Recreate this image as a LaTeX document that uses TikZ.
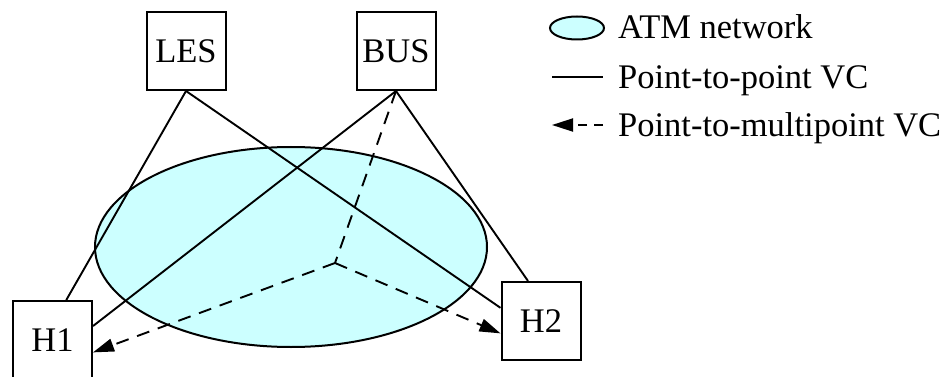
\documentclass[tikz,border=0pt]{standalone}
\usepackage{fontspec}
\setmainfont{Liberation Serif}
\usetikzlibrary{arrows.meta,positioning,shapes.geometric}
\definecolor{atmcyan}{HTML}{CCFFFF}

\begin{document}
\begin{tikzpicture}[
  x=1pt, y=-1pt,
  font=\fontsize{34.5}{40}\selectfont,
  host/.style={draw, line width=2pt, fill=white, minimum width=79pt,
               minimum height=78pt, inner sep=0pt},
  cloud/.style={ellipse, draw, line width=2pt, fill=atmcyan, inner sep=0pt},
  vc/.style={line width=1.9pt},
  mvc/.style={line width=1.9pt, dash pattern=on 13pt off 9pt,
              -{Triangle[length=21pt, width=13pt]}},
  legtext/.style={anchor=base west, inner sep=0pt}
]
\useasboundingbox (0,0) rectangle (948,377);

% ATM network
\node[cloud, minimum width=392pt, minimum height=200pt] (net) at (291,247) {};
\coordinate (hub) at (335,263);

% servers and hosts
\node[host] (les) at (186,51) {LES};
\node[host] (bus) at (396,51) {BUS};
\node[host] (h1) at (52.5,340) {H1};
\node[host] (h2) at (541,321) {H2};

% point-to-point VCs
\draw[vc] (les.south) -- (h1.71);
\draw[vc] (les.south) -- (h2.162);
\draw[vc] (bus.south) -- (h1.19);
\draw[vc] (bus.south) -- (h2.108);

% point-to-multipoint VC
\draw[vc, dash pattern=on 13pt off 9pt] (bus.south) -- (hub);
\draw[mvc] (hub) -- (h1.-17);
\draw[mvc] (hub) -- (h2.-163);

% legend
\node[cloud, minimum width=54pt, minimum height=23pt] (legnet) at (577,28) {};
\node[legtext] (legnettext) at (618,39) {ATM network};
\coordinate (ptpa) at (552,77);
\coordinate (ptpb) at (603,77);
\draw[vc] (ptpa) -- (ptpb);
\node[legtext] (ptptext) at (618,89) {Point-to-point VC};
\coordinate (pmpa) at (603,125);
\coordinate (pmpb) at (552,125);
\draw[mvc, dash pattern=on 9pt off 7pt] (pmpa) -- (pmpb);
\node[legtext] (pmptext) at (618,137) {Point-to-multipoint VC};
\end{tikzpicture}
\end{document}
